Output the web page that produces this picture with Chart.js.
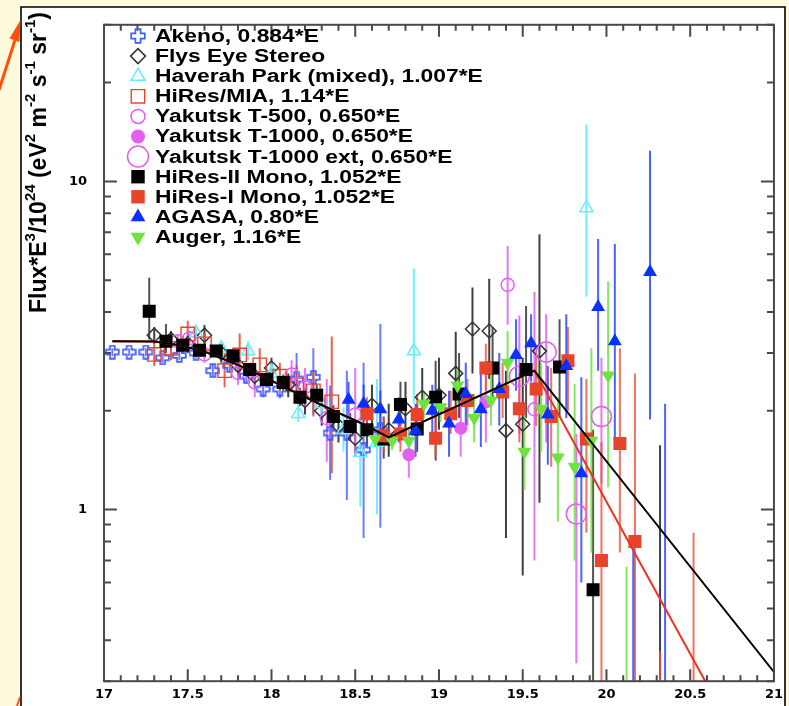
<!DOCTYPE html>
<html>
<head>
<meta charset="utf-8">
<title>UHECR spectrum compilation</title>
<script src="https://cdn.jsdelivr.net/npm/chart.js@4.4.1/dist/chart.umd.min.js"></script>
<style>
  html, body { margin: 0; padding: 0; background: #fffadc; }
  #wrap { position: relative; width: 789px; height: 706px; }
</style>
</head>
<body>
<div id="wrap"><canvas id="chart" width="789" height="706"></canvas></div>
<script>
// axis labels
const xTickValues = [17, 17.5, 18, 18.5, 19, 19.5, 20, 20.5, 21];
const xTickLabels = ['17', '17.5', '18', '18.5', '19', '19.5', '20', '20.5', '21'];
const yTickValues = [1, 10];
const yTickLabels = ['1', '10'];

// log10(E) / flux*E^3 values, with error bar ends
const akenoX  = [17.05, 17.15, 17.25, 17.35, 17.45, 17.55, 17.65, 17.75, 17.85, 17.95, 18.05, 18.15, 18.25, 18.35, 18.45, 18.55, 18.65];
const akenoY  = [3.02, 3.02, 3.02, 2.90, 2.95, 3.00, 2.65, 2.75, 2.55, 2.33, 2.33, 2.50, 2.53, 1.71, 1.71, 1.52, 1.75];
const akenoLo = [2.94, 2.94, 2.94, 2.80, 2.85, 2.90, 2.55, 2.62, 2.42, 2.20, 2.18, 2.10, 1.92, 1.23, 1.07, 0.82, 0.88];
const akenoHi = [3.10, 3.10, 3.10, 3.00, 3.05, 3.10, 2.76, 2.88, 2.68, 2.46, 2.48, 3.00, 3.10, 2.39, 2.65, 2.80, 3.68];

const flysX  = [17.3, 17.4, 17.5, 17.6, 17.7, 17.8, 17.9, 18.0, 18.1, 18.2, 18.3, 18.4, 18.5, 18.6, 18.7, 18.8, 18.9, 19.0, 19.1, 19.2, 19.3, 19.4, 19.5, 19.6, 20.32];
const flysY  = [3.40, 3.30, 3.20, 3.40, 3.00, 2.75, 2.55, 2.70, 2.40, 2.15, 2.00, 1.80, 1.65, 2.08, 1.75, 2.03, 2.20, 2.23, 2.60, 3.55, 3.50, 1.74, 1.82, 3.04, 0.20];
const flysLo = [3.20, 3.10, 3.00, 3.15, 2.80, 2.55, 2.35, 2.50, 2.20, 1.95, 1.80, 1.60, 1.45, 1.75, 1.45, 1.70, 1.80, 1.75, 1.92, 2.60, 2.50, 0.82, 0.63, 1.05, 0.10];
const flysHi = [3.60, 3.50, 3.40, 3.65, 3.20, 2.95, 2.75, 2.90, 2.60, 2.35, 2.20, 2.00, 1.85, 2.40, 2.10, 2.45, 2.70, 2.90, 3.48, 4.75, 5.05, 2.65, 2.90, 6.90, 1.57];

const haverahX  = [17.55, 17.7, 17.86, 18.0, 18.16, 18.3, 18.43, 18.53, 18.63, 18.85, 19.88];
const haverahY  = [3.45, 3.10, 3.04, 2.60, 1.96, 2.10, 1.75, 1.49, 1.60, 3.04, 8.30];
const haverahLo = [3.30, 2.95, 2.85, 2.40, 1.85, 1.90, 1.50, 1.02, 0.97, 2.10, 4.45];
const haverahHi = [3.60, 3.25, 3.25, 2.80, 2.10, 2.35, 2.05, 2.00, 2.50, 5.43, 14.9];

const miaX  = [17.3, 17.4, 17.5, 17.6, 17.72, 17.81, 17.93, 18.05, 18.15, 18.25, 18.36];
const miaY  = [2.97, 3.10, 3.43, 3.20, 2.65, 2.96, 2.76, 2.55, 2.40, 2.30, 2.13];
const miaLo = [2.74, 2.85, 3.10, 2.95, 2.36, 2.50, 2.45, 2.30, 2.10, 1.95, 1.29];
const miaHi = [3.25, 3.35, 3.76, 3.45, 3.00, 3.44, 3.10, 2.80, 2.75, 2.65, 3.37];

const t500X  = [17.44, 17.51, 17.6, 17.8, 17.9, 18.12, 18.2, 18.33, 18.5, 19.41, 19.57];
const t500Y  = [3.26, 3.33, 2.97, 2.61, 2.44, 2.58, 2.36, 1.90, 1.95, 4.84, 2.02];
const t500Lo = [3.10, 3.15, 2.80, 2.40, 2.20, 2.30, 2.05, 1.40, 1.45, 3.66, 0.70];
const t500Hi = [3.40, 3.50, 3.15, 2.85, 2.70, 2.85, 2.70, 2.50, 2.70, 6.36, 4.60];

const t1000X  = [18.82, 19.13, 19.28];
const t1000Y  = [1.47, 1.77, 2.13];
const t1000Lo = [1.25, 1.45, 1.60];
const t1000Hi = [1.75, 2.20, 2.80];

const extX  = [19.48, 19.64, 19.82, 19.97];
const extY  = [2.55, 3.02, 0.97, 1.92];
const extLo = [1.70, 1.60, 0.34, 1.20];
const extHi = [3.90, 3.94, 1.70, 2.90];

const hires2X  = [17.27, 17.37, 17.47, 17.57, 17.67, 17.77, 17.87, 17.97, 18.07, 18.17, 18.27, 18.37, 18.47, 18.57, 18.67, 18.77, 18.87, 18.98, 19.12, 19.32, 19.52, 19.72, 19.92];
const hires2Y  = [4.02, 3.26, 3.17, 3.06, 3.04, 2.94, 2.67, 2.49, 2.44, 2.20, 2.23, 1.92, 1.79, 1.75, 1.64, 2.09, 1.76, 2.20, 2.25, 2.70, 2.67, 2.72, 0.57];
const hires2Lo = [3.30, 3.00, 3.00, 2.95, 2.92, 2.82, 2.55, 2.37, 2.30, 2.07, 2.08, 1.78, 1.62, 1.55, 1.43, 1.80, 1.50, 1.41, 1.90, 2.10, 1.90, 1.90, 0.20];
const hires2Hi = [5.09, 3.68, 3.35, 3.20, 3.17, 3.07, 2.80, 2.62, 2.58, 2.35, 2.40, 2.08, 1.97, 2.00, 1.92, 2.45, 2.10, 2.84, 3.00, 3.60, 4.17, 3.80, 1.75];

const hires1X  = [18.57, 18.67, 18.77, 18.87, 18.98, 19.07, 19.17, 19.28, 19.38, 19.48, 19.58, 19.67, 19.77, 19.88, 19.97, 20.08, 20.17, 20.32, 20.52];
const hires1Y  = [1.96, 1.68, 1.70, 1.95, 1.65, 1.96, 2.15, 2.70, 2.28, 2.03, 2.33, 1.92, 2.84, 1.64, 0.70, 1.59, 0.80, 0.20, 0.20];
const hires1Lo = [1.75, 1.50, 1.50, 1.70, 1.45, 1.70, 1.80, 2.30, 1.90, 1.60, 1.80, 1.35, 2.00, 0.85, 0.20, 0.74, 0.20, 0.10, 0.10];
const hires1Hi = [2.20, 1.90, 1.95, 2.25, 1.90, 2.30, 2.50, 3.20, 2.80, 2.60, 3.00, 2.70, 3.60, 2.50, 1.60, 3.10, 2.60, 0.37, 0.85];

const agasaX  = [18.46, 18.55, 18.65, 18.76, 18.86, 18.96, 19.06, 19.16, 19.25, 19.36, 19.46, 19.55, 19.65, 19.76, 19.85, 19.95, 20.05, 20.16, 20.26, 20.35];
const agasaY  = [2.16, 2.10, 2.02, 1.88, 1.74, 2.00, 1.83, 2.25, 2.02, 2.33, 2.96, 3.21, 1.95, 2.74, 1.29, 4.14, 3.26, 0.20, 5.30, 0.20];
const agasaLo = [1.90, 1.85, 1.75, 1.60, 1.45, 1.65, 1.45, 1.80, 1.55, 1.80, 2.30, 2.45, 1.37, 1.90, 0.60, 2.65, 1.64, 0.10, 1.88, 0.10];
const agasaHi = [2.45, 2.40, 2.30, 2.20, 2.10, 2.40, 2.30, 2.80, 2.60, 3.00, 3.80, 3.94, 2.74, 3.94, 2.53, 6.67, 6.45, 0.83, 12.4, 2.10];

const augerX  = [18.62, 18.72, 18.82, 18.91, 19.01, 19.11, 19.21, 19.31, 19.41, 19.51, 19.61, 19.71, 19.81, 19.91, 20.01, 20.12];
const augerY  = [1.64, 1.62, 1.62, 2.10, 2.05, 2.39, 1.90, 2.15, 2.80, 1.50, 2.03, 1.44, 1.35, 1.62, 2.56, 0.20];
const augerLo = [1.55, 1.52, 1.50, 1.90, 1.85, 2.10, 1.60, 1.80, 2.20, 1.15, 1.50, 0.92, 0.70, 0.74, 1.17, 0.10];
const augerHi = [1.75, 1.72, 1.75, 2.30, 2.30, 2.70, 2.25, 2.60, 3.50, 2.10, 2.80, 2.20, 2.41, 3.10, 4.95, 0.67];

// broken power law fits
const fitBlackX = [17.05, 17.3, 17.45, 17.6, 17.8, 18.0, 18.2, 18.4, 18.55, 18.7, 19.57, 21.0];
const fitBlackY = [3.26, 3.25, 3.17, 3.03, 2.76, 2.47, 2.20, 1.97, 1.82, 1.66, 2.65, 0.32];
const fitRedX   = [17.05, 17.3, 17.45, 17.6, 17.8, 18.0, 18.2, 18.4, 18.55, 18.7, 19.57, 20.59];
const fitRedY   = [3.26, 3.25, 3.17, 3.03, 2.76, 2.47, 2.20, 1.97, 1.82, 1.66, 2.65, 0.30];

const FONT = "'Liberation Sans', Arial, Helvetica, sans-serif";
const TICK_FONT = "'DejaVu Sans', 'Liberation Sans', sans-serif";

function crossImage(size, color) {
    // outlined greek cross, like the Akeno marker
    const c = document.createElement('canvas');
    c.width = size;
    c.height = size;
    const g = c.getContext('2d');
    const m = 1.2, a = size * 0.34, b = size * 0.66, e = size - m;
    g.beginPath();
    g.moveTo(a, m); g.lineTo(b, m); g.lineTo(b, a); g.lineTo(e, a); g.lineTo(e, b);
    g.lineTo(b, b); g.lineTo(b, e); g.lineTo(a, e); g.lineTo(a, b); g.lineTo(m, b);
    g.lineTo(m, a); g.lineTo(a, a); g.closePath();
    g.strokeStyle = color;
    g.lineWidth = 1.7;
    g.stroke();
    return c;
}

const BLUE = '#3f5cff', CYAN = '#62eefc', RED = '#e8442c', MAG = '#e35ff2', GREEN = '#6fe23f', DARK = '#333333';

// legend order; 'order' decides which markers end up on top
const series = [
    { label: 'Akeno, 0.884*E', x: akenoX, y: akenoY, lo: akenoLo, hi: akenoHi, style: crossImage(15, BLUE), legendStyle: crossImage(16, BLUE), r: 7, fill: 'transparent', line: BLUE, bw: 0, bar: 'rgba(80,105,255,0.85)', order: 11 },
    { label: 'Flys Eye Stereo', x: flysX, y: flysY, lo: flysLo, hi: flysHi, style: 'rectRot', r: 7, fill: 'transparent', line: DARK, bw: 1.5, bar: 'rgba(30,30,30,0.85)', order: 10 },
    { label: 'Haverah Park (mixed), 1.007*E', x: haverahX, y: haverahY, lo: haverahLo, hi: haverahHi, style: 'triangle', r: 7.5, fill: 'transparent', line: CYAN, bw: 1.5, bar: 'rgba(98,238,252,0.9)', order: 9 },
    { label: 'HiRes/MIA, 1.14*E', x: miaX, y: miaY, lo: miaLo, hi: miaHi, style: 'rect', r: 9.5, fill: 'transparent', line: RED, bw: 1.4, bar: 'rgba(232,68,44,0.85)', order: 8 },
    { label: 'Yakutsk T-500, 0.650*E', x: t500X, y: t500Y, lo: t500Lo, hi: t500Hi, style: 'circle', r: 6.5, fill: 'transparent', line: MAG, bw: 1.5, bar: 'rgba(227,95,242,0.85)', order: 7 },
    { label: 'Yakutsk T-1000, 0.650*E', x: t1000X, y: t1000Y, lo: t1000Lo, hi: t1000Hi, style: 'circle', r: 6.5, fill: MAG, line: MAG, bw: 0, bar: 'rgba(227,95,242,0.85)', order: 6 },
    { label: 'Yakutsk T-1000 ext, 0.650*E', x: extX, y: extY, lo: extLo, hi: extHi, style: 'circle', r: 10, fill: 'transparent', line: MAG, bw: 1.5, bar: 'rgba(227,95,242,0.85)', order: 5 },
    { label: 'HiRes-II Mono, 1.052*E', x: hires2X, y: hires2Y, lo: hires2Lo, hi: hires2Hi, style: 'rect', r: 9.2, fill: '#000000', line: '#000000', bw: 0, bar: 'rgba(40,40,40,0.8)', order: 4 },
    { label: 'HiRes-I Mono, 1.052*E', x: hires1X, y: hires1Y, lo: hires1Lo, hi: hires1Hi, style: 'rect', r: 9.2, fill: RED, line: RED, bw: 0, bar: 'rgba(236,80,56,0.8)', order: 3 },
    { label: 'AGASA, 0.80*E', x: agasaX, y: agasaY, lo: agasaLo, hi: agasaHi, style: 'triangle', r: 8, fill: '#0a30ff', line: '#0a30ff', bw: 0, bar: 'rgba(30,60,255,0.8)', order: 2 },
    { label: 'Auger, 1.16*E', x: augerX, y: augerY, lo: augerLo, hi: augerHi, style: 'triangle', rot: 180, r: 8, fill: GREEN, line: GREEN, bw: 0, bar: 'rgba(111,226,63,0.85)', order: 1 }
];

const datasets = [
    { label: 'fit', data: fitBlackX.map((x, i) => ({ x: x, y: fitBlackY[i] })), showLine: true, pointRadius: 0, borderColor: '#000000', borderWidth: 2, tension: 0, order: 0 },
    { label: 'fit red', data: fitRedX.map((x, i) => ({ x: x, y: fitRedY[i] })), showLine: true, pointRadius: 0, borderColor: '#ee3322', borderWidth: 2, tension: 0, order: 0.5 }
];
series.forEach(s => {
    datasets.push({
        label: s.label,
        data: s.x.map((x, i) => ({ x: x, y: s.y[i] })),
        errLo: s.lo,
        errHi: s.hi,
        errColor: s.bar,
        pointStyle: s.style,
        pointRotation: s.rot || 0,
        pointRadius: s.r,
        backgroundColor: s.fill,
        borderColor: s.line,
        pointBorderWidth: s.bw,
        showLine: false,
        order: s.order
    });
});

const background = {
    id: 'background',
    beforeDraw(chart) {
        const ctx = chart.ctx;
        ctx.save();
        ctx.fillStyle = '#fffadc';
        ctx.fillRect(0, 0, chart.width, chart.height);
        ctx.fillStyle = '#ffffff';
        ctx.fillRect(21, 7, 764, chart.height - 7);
        ctx.strokeStyle = '#000000';
        ctx.lineWidth = 1.6;
        ctx.beginPath();
        ctx.moveTo(21, chart.height); ctx.lineTo(21, 7); ctx.lineTo(785, 7); ctx.lineTo(785, chart.height);
        ctx.stroke();
        // orange pointer arrow in the margin
        ctx.strokeStyle = '#ff4f0f';
        ctx.fillStyle = '#ff4f0f';
        ctx.lineWidth = 3;
        ctx.beginPath(); ctx.moveTo(-1, 90); ctx.lineTo(15, 40); ctx.stroke();
        ctx.beginPath(); ctx.moveTo(20.5, 20); ctx.lineTo(19.5, 42); ctx.lineTo(9.5, 38.5); ctx.closePath(); ctx.fill();
        ctx.lineWidth = 2;
        ctx.beginPath(); ctx.moveTo(17, 706); ctx.lineTo(20, 697); ctx.stroke();
        ctx.restore();
    }
};

const errorBars = {
    id: 'errorBars',
    beforeDatasetsDraw(chart) {
        const { ctx, chartArea: a, scales: { x, y } } = chart;
        ctx.save();
        ctx.beginPath();
        ctx.rect(a.left, a.top, a.right - a.left, a.bottom - a.top);
        ctx.clip();
        ctx.lineWidth = 2;
        chart.data.datasets.forEach(ds => {
            if (!ds.errLo) return;
            ctx.strokeStyle = ds.errColor;
            ds.data.forEach((p, i) => {
                const px = x.getPixelForValue(p.x);
                ctx.beginPath();
                ctx.moveTo(px, y.getPixelForValue(ds.errLo[i]));
                ctx.lineTo(px, y.getPixelForValue(ds.errHi[i]));
                ctx.stroke();
            });
        });
        ctx.restore();
    }
};

const frame = {
    id: 'frame',
    afterDraw(chart) {
        const { ctx, chartArea: a, scales: { x, y } } = chart;
        ctx.save();
        ctx.strokeStyle = '#4a4a4a';
        ctx.lineWidth = 2;
        ctx.strokeRect(a.left, a.top, a.right - a.left, a.bottom - a.top);
        ctx.beginPath();
        for (let i = 0; i <= 40; i++) {
            const px = x.getPixelForValue(17 + i / 10);
            const len = i % 5 === 0 ? 12 : 6;
            ctx.moveTo(px, a.bottom); ctx.lineTo(px, a.bottom - len);
            ctx.moveTo(px, a.top); ctx.lineTo(px, a.top + len);
        }
        [0.1, 1, 10].forEach(d => {
            for (let k = 1; k <= 9; k++) {
                const v = k * d;
                if (v < 0.299 || v > 30.01) continue;
                const py = y.getPixelForValue(v);
                const len = k === 1 ? 13 : 7;
                ctx.moveTo(a.left, py); ctx.lineTo(a.left + len, py);
                ctx.moveTo(a.right, py); ctx.lineTo(a.right - len, py);
            }
        });
        ctx.stroke();

        // y axis title with superscripts
        const parts = [['Flux*E', 0], ['3', 1], ['/10', 0], ['24', 1], [' (eV', 0], ['2', 1], [' m', 0], ['-2', 1],
                       [' s', 0], ['-1', 1], [' sr', 0], ['-1', 1], [')', 0]];
        ctx.translate(46, 313);
        ctx.rotate(-Math.PI / 2);
        ctx.fillStyle = '#000000';
        ctx.textBaseline = 'alphabetic';
        let tx = 0;
        parts.forEach(([t, sup]) => {
            ctx.font = sup ? 'bold 15px ' + FONT : 'bold 23px ' + FONT;
            ctx.fillText(t, tx, sup ? -11 : 0);
            tx += ctx.measureText(t).width;
        });
        ctx.restore();

        // legend inside the plot (the reference lettering is wide, so stretch it)
        ctx.save();
        ctx.font = 'bold 18px ' + FONT;
        ctx.textBaseline = 'middle';
        series.forEach((s, i) => {
            const ly = 36 + i * 20.1;
            ctx.fillStyle = s.fill;
            ctx.strokeStyle = s.line;
            ctx.lineWidth = s.bw;
            const big = s.style === 'rect' ? 9.5 : s.r + 0.5;
            Chart.helpers.drawPoint(ctx, { pointStyle: s.legendStyle || s.style, rotation: s.rot || 0, radius: s.label.indexOf('ext') > 0 ? 10.5 : big, borderWidth: s.bw }, 138, ly);
            ctx.save();
            ctx.translate(155, ly + 1);
            ctx.scale(1.27, 1);
            ctx.fillStyle = '#000000';
            ctx.fillText(s.label, 0, 0);
            ctx.restore();
        });
        ctx.restore();
    }
};

Chart.defaults.font.family = FONT;

new Chart(document.getElementById('chart'), {
    type: 'scatter',
    data: { datasets: datasets },
    options: {
        responsive: false,
        animation: false,
        events: [],
        layout: { padding: { left: 0, right: 12, top: 9, bottom: 0 } },
        plugins: { legend: { display: false }, tooltip: { enabled: false } },
        scales: {
            x: {
                type: 'linear', min: 17, max: 21,
                grid: { display: false, drawTicks: false },
                border: { display: false },
                afterBuildTicks: s => { s.ticks = xTickValues.map(v => ({ value: v })); },
                afterFit: s => { s.height = 24; },
                ticks: {
                    autoSkip: false, maxRotation: 0, padding: 6, color: '#000000',
                    font: { family: TICK_FONT, size: 13, weight: 'bold' },
                    callback: (v, i) => xTickLabels[i]
                }
            },
            y: {
                type: 'logarithmic', min: 0.3, max: 30,
                grid: { display: false, drawTicks: false },
                border: { display: false },
                afterBuildTicks: s => { s.ticks = yTickValues.map(v => ({ value: v })); },
                afterFit: s => { s.width = 104; },
                ticks: {
                    autoSkip: false, padding: 17, color: '#000000',
                    font: { family: TICK_FONT, size: 13, weight: 'bold' },
                    callback: (v, i) => yTickLabels[i]
                }
            }
        }
    },
    plugins: [background, errorBars, frame]
});
</script>
</body>
</html>
